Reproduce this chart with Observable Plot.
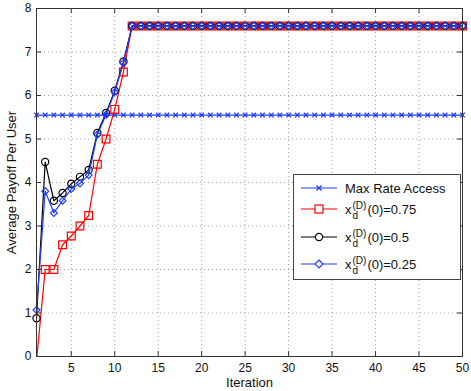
<!DOCTYPE html>
<html>
<head>
<meta charset="utf-8">
<script src="https://cdn.jsdelivr.net/npm/d3@7"></script>
<script src="https://cdn.jsdelivr.net/npm/@observablehq/plot@0.6"></script>
<style>
  body { margin: 0; background: #fff; font-family: "Liberation Sans", Arial, sans-serif; }
  #wrap { position: relative; width: 471px; height: 391px; }
  #legend { position: absolute; left: 293px; top: 174px; width: 166px; height: 104px;
            background: #fff; border: 1px solid #444; font-size: 13px; color: #111; }
  .row { position: absolute; left: 0; height: 20px; display: flex; align-items: center; }
  .row svg { display: block; }
  .lab { margin-left: 5px; white-space: nowrap; display: flex; align-items: center; }
  .stack { display: inline-flex; flex-direction: column; font-size: 10px; line-height: 10px; margin: 0 1px; position: relative; top: 2px; }
</style>
</head>
<body>
<div id="wrap"></div>
<script>
const iterations = [1,2,3,4,5,6,7,8,9,10,11,12,13,14,15,16,17,18,19,20,21,22,23,24,25,26,27,28,29,30,31,32,33,34,35,36,37,38,39,40,41,42,43,44,45,46,47,48,49,50];
const maxRate = [5.55,5.55,5.55,5.55,5.55,5.55,5.55,5.55,5.55,5.55,5.55,5.55,5.55,5.55,5.55,5.55,5.55,5.55,5.55,5.55,5.55,5.55,5.55,5.55,5.55,5.55,5.55,5.55,5.55,5.55,5.55,5.55,5.55,5.55,5.55,5.55,5.55,5.55,5.55,5.55,5.55,5.55,5.55,5.55,5.55,5.55,5.55,5.55,5.55,5.55];
const x075 = [-0.1,2.0,2.0,2.57,2.77,3.0,3.24,4.42,5.0,5.68,6.54,7.6,7.6,7.6,7.6,7.6,7.6,7.6,7.6,7.6,7.6,7.6,7.6,7.6,7.6,7.6,7.6,7.6,7.6,7.6,7.6,7.6,7.6,7.6,7.6,7.6,7.6,7.6,7.6,7.6,7.6,7.6,7.6,7.6,7.6,7.6,7.6,7.6,7.6,7.6];
const x050 = [0.88,4.47,3.58,3.76,3.97,4.13,4.29,5.14,5.6,6.11,6.78,7.6,7.6,7.6,7.6,7.6,7.6,7.6,7.6,7.6,7.6,7.6,7.6,7.6,7.6,7.6,7.6,7.6,7.6,7.6,7.6,7.6,7.6,7.6,7.6,7.6,7.6,7.6,7.6,7.6,7.6,7.6,7.6,7.6,7.6,7.6,7.6,7.6,7.6,7.6];
const x025 = [1.07,3.8,3.3,3.58,3.85,3.98,4.17,5.1,5.56,6.08,6.75,7.6,7.6,7.6,7.6,7.6,7.6,7.6,7.6,7.6,7.6,7.6,7.6,7.6,7.6,7.6,7.6,7.6,7.6,7.6,7.6,7.6,7.6,7.6,7.6,7.6,7.6,7.6,7.6,7.6,7.6,7.6,7.6,7.6,7.6,7.6,7.6,7.6,7.6,7.6];
const xTicks = [5,10,15,20,25,30,35,40,45,50];
const yTicks = [0,1,2,3,4,5,6,7,8];
const xLabel = "Iteration";
const yLabel = "Average Payoff Per User";

const BLUE = "#1f3cff", RED = "#ff0000", BLACK = "#000000";
const mk = (vals) => iterations.map((x, i) => ({x, y: vals[i]}));
const dMax = mk(maxRate), d75 = mk(x075), d50 = mk(x050), d25 = mk(x025);

const W = 471, H = 391, mT = 8, mB = 35, mL = 36, mR = 9;
const fh = H - mT - mB, fw = W - mL - mR;

const chart = Plot.plot({
  width: W, height: H,
  marginTop: mT, marginBottom: mB, marginLeft: mL, marginRight: mR,
  style: {fontFamily: "Liberation Sans, Arial, sans-serif", fontSize: "12px", color: "#111", background: "#fff"},
  x: {domain: [1, 50], ticks: xTicks, label: null},
  y: {domain: [0, 8], ticks: yTicks, label: null},
  marks: [
    Plot.gridX(xTicks.slice(0, -1), {stroke: "#888", strokeOpacity: 0.8, strokeDasharray: "1,3"}),
    Plot.gridY(yTicks.slice(1, -1), {stroke: "#888", strokeOpacity: 0.8, strokeDasharray: "1,3"}),
    Plot.axisX(xTicks, {tickSize: 0, tickPadding: 7, fontSize: 12}),
    Plot.axisY(yTicks, {tickSize: 0, tickPadding: 5, fontSize: 12}),
    Plot.tickX(xTicks, {x: d => d, insetTop: fh - 5, stroke: "#333"}),
    Plot.tickX(xTicks, {x: d => d, insetBottom: fh - 5, stroke: "#333"}),
    Plot.tickY(yTicks, {y: d => d, insetRight: fw - 5, stroke: "#333"}),
    Plot.tickY(yTicks, {y: d => d, insetLeft: fw - 5, stroke: "#333"}),
    Plot.line(dMax, {x: "x", y: "y", stroke: BLUE, strokeWidth: 1.2}),
    Plot.dot(dMax, {x: "x", y: "y", symbol: "times", r: 2.2, stroke: BLUE, strokeWidth: 1.3}),
    Plot.line(d75, {x: "x", y: "y", stroke: RED, strokeWidth: 1.2, clip: true}),
    Plot.dot(d75.filter(d => d.y >= 0), {x: "x", y: "y", symbol: "square", r: 4.4, stroke: RED, fill: "none", strokeWidth: 1.2}),
    Plot.line(d50, {x: "x", y: "y", stroke: BLACK, strokeWidth: 1.2}),
    Plot.dot(d50, {x: "x", y: "y", symbol: "circle", r: 3.6, stroke: BLACK, fill: "none", strokeWidth: 1.2}),
    Plot.line(d25, {x: "x", y: "y", stroke: BLUE, strokeWidth: 1.2}),
    Plot.dot(d25, {x: "x", y: "y", symbol: "diamond2", r: 3.1, stroke: BLUE, fill: "none", strokeWidth: 1.2}),
    Plot.frame({stroke: "#333", strokeWidth: 1}),
    Plot.text([xLabel], {frameAnchor: "bottom", lineAnchor: "middle", textAnchor: "middle", dy: 26, fontSize: 13, fill: "#111"}),
    Plot.text([yLabel], {frameAnchor: "left", lineAnchor: "middle", textAnchor: "middle", dx: -25, rotate: -90, fontSize: 13, fill: "#111"})
  ]
});

const wrap = document.getElementById("wrap");
wrap.appendChild(chart);

// Legend
const entries = [
  {color: BLUE, symbol: "times", text: "Max Rate Access"},
  {color: RED, symbol: "square", sub: "0.75"},
  {color: BLACK, symbol: "circle", sub: "0.5"},
  {color: BLUE, symbol: "diamond", sub: "0.25"}
];
const rowTops = [3, 24, 52, 79];
const legend = document.createElement("div");
legend.id = "legend";
entries.forEach((e, i) => {
  const row = document.createElement("div");
  row.className = "row";
  row.style.top = (rowTops[i]) + "px";
  let sym = "";
  if (e.symbol === "times") sym = `<path d="M16.5,7.5 L21.5,12.5 M21.5,7.5 L16.5,12.5" stroke="${e.color}" stroke-width="1.3"/>`;
  if (e.symbol === "square") sym = `<rect x="15" y="6" width="8" height="8" fill="#fff" stroke="${e.color}" stroke-width="1.2"/>`;
  if (e.symbol === "circle") sym = `<circle cx="19" cy="10" r="3.6" fill="#fff" stroke="${e.color}" stroke-width="1.2"/>`;
  if (e.symbol === "diamond") sym = `<path d="M19,6 L23,10 L19,14 L15,10 Z" fill="#fff" stroke="${e.color}" stroke-width="1.2"/>`;
  const svg = `<svg width="44" height="20" style="margin-left:6px"><line x1="1" x2="37" y1="10" y2="10" stroke="${e.color}" stroke-width="1.2"/>${sym}</svg>`;
  const lab = e.text ? `<span class="lab" style="margin-left:1px">${e.text}</span>`
    : `<span class="lab" style="margin-left:1px">x<span class="stack"><span>(D)</span><span>d</span></span>(0)=${e.sub}</span>`;
  row.innerHTML = svg + lab;
  legend.appendChild(row);
});
wrap.appendChild(legend);
</script>
</body>
</html>
